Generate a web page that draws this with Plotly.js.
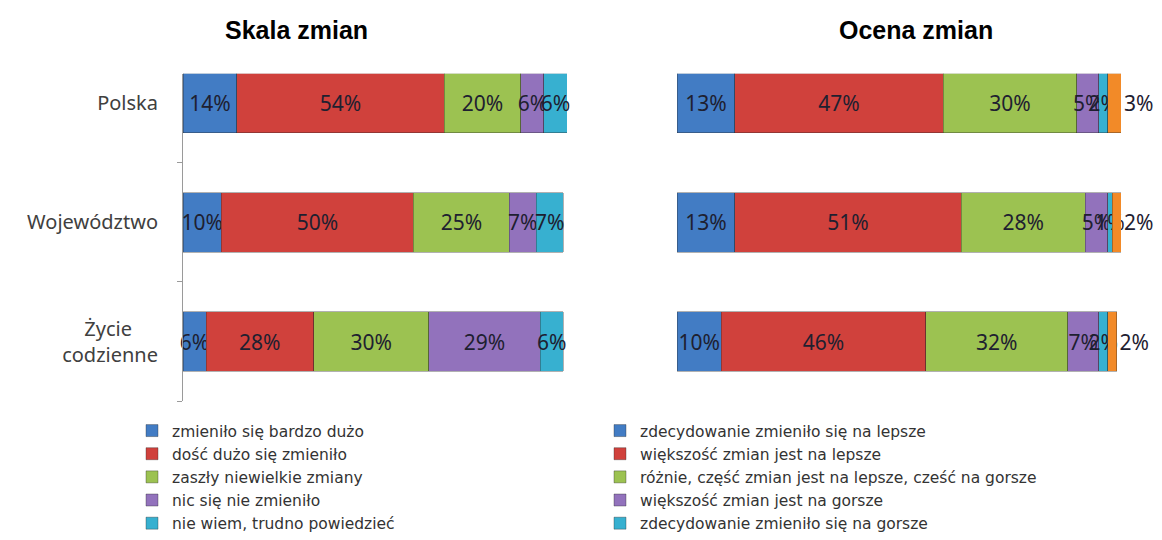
<!DOCTYPE html>
<html>
<head>
<meta charset="utf-8">
<script src="https://cdn.plot.ly/plotly-3.0.1.min.js"></script>
<style>
html,body{margin:0;padding:0;background:#fff;}
#chart{width:1162px;height:540px;}
</style>
</head>
<body>
<div id="chart"></div>
<script>
// Categories (y axis)
const categories = ["Polska", "Województwo", "Życie codzienne"];
const categoryLabels = ["Polska", "Województwo", "Życie\u00a0\u00a0\u00a0\u00a0\u00a0<br>codzienne"];

// Left chart: "Skala zmian"
const skalaNames = [
  "zmieniło się bardzo dużo",
  "dość dużo się zmieniło",
  "zaszły niewielkie zmiany",
  "nic się nie zmieniło",
  "nie wiem, trudno powiedzieć"
];
const skala_bardzoDuzo   = [14, 10, 6];
const skala_dosDuzo      = [54, 50, 28];
const skala_niewielkie   = [20, 25, 30];
const skala_nic          = [6, 7, 29];
const skala_nieWiem      = [6, 7, 6];

// Right chart: "Ocena zmian"
const ocenaNames = [
  "zdecydowanie zmieniło się na lepsze",
  "większość zmian jest na lepsze",
  "różnie, część zmian jest na lepsze, cześć na gorsze",
  "większość zmian jest na gorsze",
  "zdecydowanie zmieniło się na gorsze",
  "trudno powiedzieć"
];
const ocena_zdecLepsze   = [13, 13, 10];
const ocena_wiekLepsze   = [47, 51, 46];
const ocena_roznie       = [30, 28, 32];
const ocena_wiekGorsze   = [5, 5, 7];
const ocena_zdecGorsze   = [2, 1, 2];
const ocena_trudno       = [3, 2, 2];

const colors = ["#427CC4", "#D0413C", "#9CC251", "#9272BC", "#37B0D0", "#F28A28"];
const FONT = "Noto Sans, Open Sans, sans-serif";
const LEGEND_FONT = "DejaVu Sans, Noto Sans, sans-serif";
const textFont = {family: FONT, size: 21, color: "#1e2030"};

function barTrace(vals, name, color, xa, ya, legend, extra) {
  return Object.assign({
    type: "bar",
    orientation: "h",
    y: categories,
    x: vals,
    name: name,
    xaxis: xa,
    yaxis: ya,
    legend: legend,
    marker: {color: color, line: {color: "rgba(40,40,40,0.45)", width: 0.8}},
    texttemplate: "%{x}%",
    textposition: "inside",
    insidetextanchor: "middle",
    textangle: 0,
    constraintext: "none",
    textfont: textFont,
    insidetextfont: textFont,
    cliponaxis: false,
    hoverinfo: "x+name"
  }, extra || {});
}

const skalaVals = [skala_bardzoDuzo, skala_dosDuzo, skala_niewielkie, skala_nic, skala_nieWiem];
const ocenaVals = [ocena_zdecLepsze, ocena_wiekLepsze, ocena_roznie, ocena_wiekGorsze, ocena_zdecGorsze, ocena_trudno];

const data = [];
skalaVals.forEach((v, i) => data.push(barTrace(v, skalaNames[i], colors[i], "x", "y", "legend")));
ocenaVals.forEach((v, i) => {
  const extra = (i === 5) ? {textposition: "outside", outsidetextfont: textFont, showlegend: false} : {};
  data.push(barTrace(v, ocenaNames[i], colors[i], "x2", "y2", "legend2", extra));
});

const yDomain = [(540 - 402) / 540, (540 - 74) / 540];
const yRange = [2.5, -0.245];

const legendCommon = {
  orientation: "v",
  yanchor: "top",
  xanchor: "left",
  bgcolor: "rgba(0,0,0,0)",
  font: {family: LEGEND_FONT, size: 15.5, color: "#333333"},
  traceorder: "normal",
  itemclick: false,
  itemdoubleclick: false
};

const layout = {
  width: 1162,
  height: 540,
  margin: {l: 0, r: 0, t: 0, b: 0},
  paper_bgcolor: "#ffffff",
  plot_bgcolor: "#ffffff",
  barmode: "stack",
  bargap: 0.5,
  showlegend: true,
  xaxis: {domain: [183 / 1162, 567 / 1162], range: [0, 100], visible: false, fixedrange: true},
  xaxis2: {domain: [677 / 1162, 1121 / 1162], range: [0, 100], visible: false, fixedrange: true},
  yaxis: {
    domain: yDomain,
    type: "category",
    categoryorder: "array",
    categoryarray: categories,
    range: yRange,
    tickmode: "array",
    tickvals: categories,
    ticktext: categoryLabels,
    tickson: "boundaries",
    ticks: "outside",
    ticklen: 5,
    tickcolor: "#9a9a9a",
    showline: true,
    linecolor: "#9a9a9a",
    linewidth: 1,
    showgrid: false,
    zeroline: false,
    ticklabelstandoff: 20,
    tickfont: {family: FONT, size: 20, color: "#404040"},
    fixedrange: true
  },
  yaxis2: {
    domain: yDomain,
    anchor: "x2",
    type: "category",
    categoryorder: "array",
    categoryarray: categories,
    range: yRange,
    showticklabels: false,
    ticks: "",
    showline: false,
    showgrid: false,
    zeroline: false,
    fixedrange: true
  },
  legend: Object.assign({}, legendCommon, {x: 132 / 1162, y: (540 - 415) / 540}),
  legend2: Object.assign({}, legendCommon, {x: 600 / 1162, y: (540 - 415) / 540}),
  annotations: [
    {text: "<b>Skala zmian</b>", xref: "paper", yref: "paper", x: 296 / 1162, y: (540 - 30) / 540,
     xanchor: "center", yanchor: "middle", showarrow: false,
     font: {family: "Liberation Sans, Arial, sans-serif", size: 25, color: "#000000"}},
    {text: "<b>Ocena zmian</b>", xref: "paper", yref: "paper", x: 916 / 1162, y: (540 - 30) / 540,
     xanchor: "center", yanchor: "middle", showarrow: false,
     font: {family: "Liberation Sans, Arial, sans-serif", size: 25, color: "#000000"}}
  ]
};

Plotly.newPlot("chart", data, layout, {displayModeBar: false, responsive: false});
</script>
</body>
</html>
